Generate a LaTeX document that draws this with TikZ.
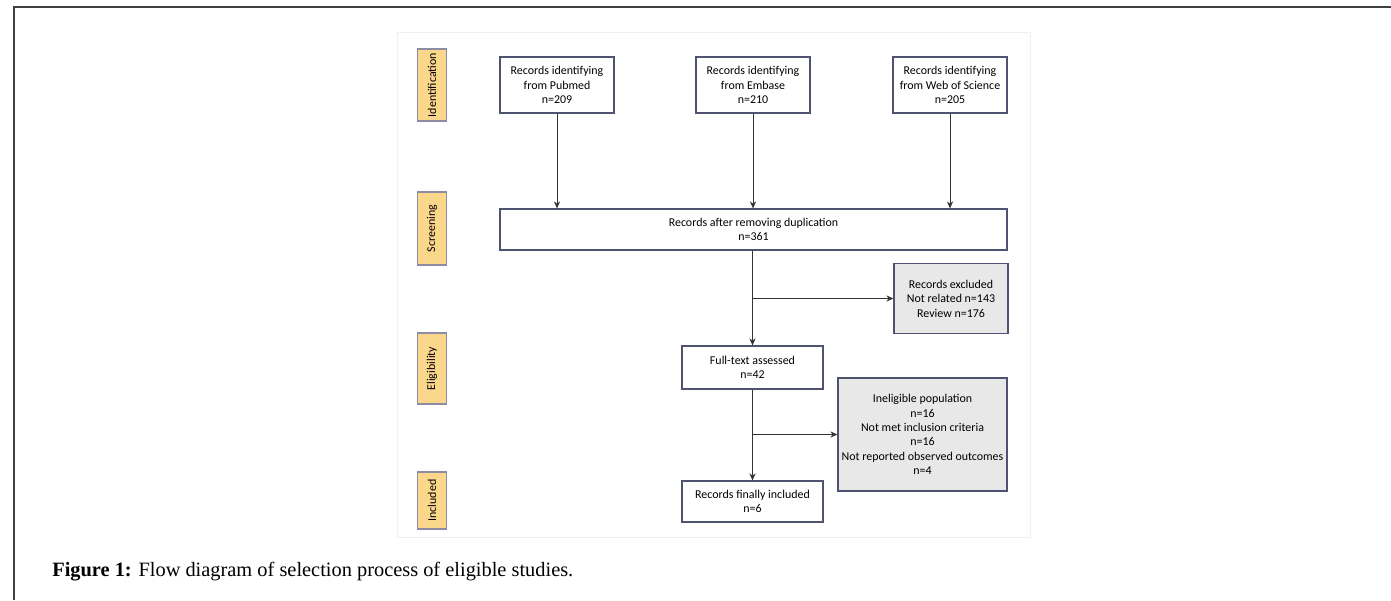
\documentclass[tikz,border=0pt]{standalone}
\usepackage{fontspec}
\setmainfont{Liberation Serif}
\newfontfamily\boxfont{Carlito}
\usepackage{xcolor}
\usepackage{tikz}
\usetikzlibrary{arrows.meta}
\usetikzlibrary{positioning}
\definecolor{boxline}{HTML}{4F5270}
\definecolor{exclfill}{HTML}{E8E8E8}
\definecolor{stagefill}{HTML}{FBD78C}
\definecolor{stageline}{HTML}{8C8CA2}
\tikzset{
    flownode/.style = {align=center, inner sep=0pt, text centered, font=\boxfont\fontsize{6.8}{8.2}\selectfont},
    rec_node/.style = {flownode, rectangle, draw=boxline, fill=white, line width=0.7pt},
    excl_node/.style = {flownode, rectangle, draw=boxline, fill=exclfill, line width=0.7pt},
    stage_node/.style = {flownode, rectangle, rotate=90, draw=stageline, fill=stagefill, line width=0.6pt, minimum height=0.58cm},
    arr/.style = {-{Stealth[length=4pt,width=3.5pt]}, line width=0.5pt, black!80}
}

\begin{document}
\begin{tikzpicture}[x=0.02cm, y=-0.02cm]
    \useasboundingbox (0,0) rectangle (1391,600);
    % outer frame and diagram area
    \draw[black!75, line width=1.2pt] (14,600) -- (14,7) -- (1391,7);
    \draw[black!6, fill=white] (397,32) rectangle (1030,537);

    % stages
    \node (ident) [stage_node, minimum width=1.44cm] at (432,85) {Identification};
    \node (screen) [stage_node, minimum width=1.46cm] at (432,228.5) {Screening};
    \node (elig) [stage_node, minimum width=1.42cm] at (432,368.5) {Eligibility};
    \node (incd) [stage_node, minimum width=1.14cm] at (432,500.5) {Included};

    % records
    \node (pubmed) [rec_node, minimum width=2.28cm, minimum height=1.12cm] at (557,85)
        {Records identifying\\from Pubmed\\n=209};
    \node (embase) [rec_node, minimum width=2.28cm, minimum height=1.12cm] at (753,85)
        {Records identifying\\from Embase\\n=210};
    \node (wos) [rec_node, minimum width=2.28cm, minimum height=1.12cm] at (950,85)
        {Records identifying\\from Web of Science\\n=205};
    \node (dup) [rec_node, minimum width=10.14cm, minimum height=0.82cm] at (753.5,229.5)
        {Records after removing duplication\\n=361};
    \node (excl) [excl_node, minimum width=2.28cm, minimum height=1.4cm] at (951,298.5)
        {Records excluded\\Not related n=143\\Review n=176};
    \node (full) [rec_node, minimum width=2.82cm, minimum height=0.86cm] at (752.5,367.5)
        {Full-text assessed\\n=42};
    \node (inel) [excl_node, minimum width=3.38cm, minimum height=2.26cm] at (922.5,434.5)
        {Ineligible population\\n=16\\Not met inclusion criteria\\n=16\\Not reported observed outcomes\\n=4};
    \node (final) [rec_node, minimum width=2.82cm, minimum height=0.82cm] at (752.5,501.5)
        {Records finally included\\n=6};

    % arrows
    \foreach \src in {pubmed, embase, wos}
        \draw[arr] (\src.south) -- (\src.south |- dup.north);
    \draw[arr] (full.north |- dup.south) -- (full.north);
    \draw[arr] (full.north |- excl.west) -- (excl.west);
    \draw[arr] (full.south) -- (final.north);
    \draw[arr] (full.south |- inel.west) -- (inel.west);

    % caption
    \node (caption) [anchor=base west, inner sep=0pt, font=\fontsize{11.6}{14}\selectfont] at (52,576)
        {\textbf{Figure 1:} Flow diagram of selection process of eligible studies.};
\end{tikzpicture}
\end{document}
